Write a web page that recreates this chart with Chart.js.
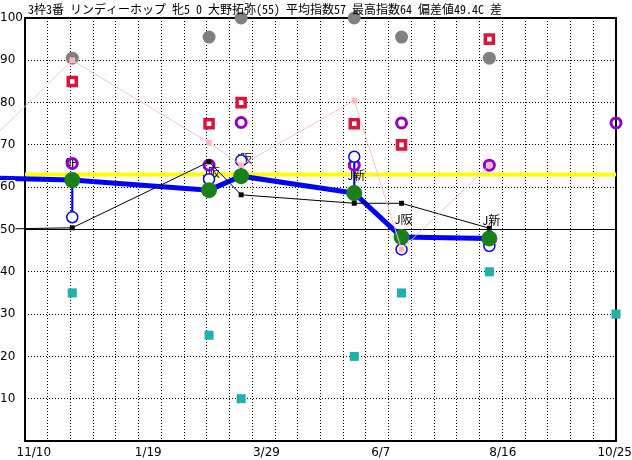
<!DOCTYPE html>
<html lang="ja">
<head>
<meta charset="utf-8">
<title>指数グラフ</title>
<script src="https://cdn.jsdelivr.net/npm/chart.js@4.4.1/dist/chart.umd.min.js"></script>
<style>
  body { margin: 0; background: #fff; }
</style>
</head>
<body>
<canvas id="myChart" width="632" height="460"></canvas>
<script>
const titleText = '3枠3番 リンディーホップ 牝5 0 大野拓弥(55) 平均指数57 最高指数64 偏差値49.4C 差';

// x range and labels
const xStart = '2023-11-15';
const xEnd = '2024-10-30';
const tickDates = ['2023-11-10', '2024-01-19', '2024-03-29', '2024-06-07', '2024-08-16', '2024-10-25'];
const tickLabels = ['11/10', '1/19', '3/29', '6/7', '8/16', '10/25'];

// races
const prevDate = '2023-10-15';
const raceDates = ['2023-12-13', '2024-03-03', '2024-03-22', '2024-05-28', '2024-06-25', '2024-08-16'];
const nextDate = '2024-10-30';
const courses = ['OP', 'J阪', 'J阪', 'J新', 'J阪', 'J新'];

// values
const speedPrev = 62.3;
const speed = [61.7, 59.3, 62.6, 58.6, 48.2, 47.9];
const speedAlt = [52.9, 61.9, 66.3, 67.2, 45.3, 46.1];
const blackPrev = 50;
const blackIdx = [50.4, 66, 58.2, 56.2, 56.2, 50.3];
const pinkPrev = 67;
const pinkIdx = [90, 70.5, 65.2, 80.5, 45.3, 65.2];
const grayIdx = [90.5, 95.5, 100, 100, 95.5, 90.5];
const redIdx = [85, 75, 80, 75, 70, 95];
const purpleIdx = [65.6, 65.2, 75.3, 65.2, 75.2, 65.2];
const purpleNext = 75.2;
const tealIdx = [35, 25, 10, 20, 35, 40];
const tealNext = 30;
const yellowLevel = 63;
const baseLevel = 50;

const dayOf = s => {
    const [y, m, d] = s.split('-').map(Number);
    return Date.UTC(y, m - 1, d) / 86400000;
};
const pts = (dates, vals) => dates.map((d, i) => ({x: dayOf(d), y: vals[i]}));
const xMin = dayOf(xStart);
const xMax = dayOf(xEnd);

const jpFont = '"Noto Sans Mono CJK JP", "Noto Sans CJK JP", sans-serif';
const tickFont = {family: 'DejaVu Sans', size: 12};

const framePlugin = {
    id: 'frame',
    // keep the last date label inside the canvas, like the original
    afterLayout(chart) {
        const s = chart.scales.x;
        const ctx = chart.ctx;
        ctx.save();
        ctx.font = tickFont.size + 'px "' + tickFont.family + '"';
        s.ticks.forEach(t => {
            if (!t.txt) return;
            const maxPx = chart.width - ctx.measureText(t.txt).width;
            if (s.getPixelForValue(t.value) > maxPx) t.value = s.getValueForPixel(maxPx);
        });
        ctx.restore();
    },
    beforeDatasetsDraw(chart) {
        const {ctx, chartArea: a} = chart;
        ctx.save();
        ctx.strokeStyle = '#000';
        ctx.lineWidth = 2;
        ctx.strokeRect(a.left, a.top, a.right - a.left, a.bottom - a.top);
        ctx.restore();
    }
};

const textPlugin = {
    id: 'texts',
    afterDatasetDraw(chart, args) {
        const ds = chart.data.datasets[args.index];
        if (!ds.courses) return;
        const ctx = chart.ctx;
        ctx.save();
        ctx.font = '12px ' + jpFont;
        ctx.fillStyle = '#000';
        ctx.textBaseline = 'middle';
        args.meta.data.forEach((p, i) => {
            if (i === 0) return;
            ctx.fillText(ds.courses[i - 1], p.x - 7, p.y - 18);
        });
        ctx.restore();
    },
    afterDraw(chart) {
        const ctx = chart.ctx;
        ctx.save();
        ctx.font = '12px ' + jpFont;
        ctx.fillStyle = '#000';
        ctx.textBaseline = 'middle';
        ctx.fillText(titleText, 28, 9);
        ctx.restore();
    }
};

const allDates = raceDates.concat([nextDate]);

new Chart('myChart', {
    type: 'line',
    data: {
        datasets: [
            {
                data: pts([prevDate].concat(raceDates), [pinkPrev].concat(pinkIdx)),
                borderColor: '#f5c4cf', borderWidth: 1,
                pointStyle: 'rect', pointRadius: 4, pointBackgroundColor: '#ffb6c1', pointBorderWidth: 0
            },
            {
                data: pts([prevDate].concat(raceDates), [blackPrev].concat(blackIdx)),
                borderColor: '#000', borderWidth: 1,
                pointStyle: 'rect', pointRadius: 3.5, pointBackgroundColor: '#000', pointBorderWidth: 0
            },
            {
                data: pts(raceDates, speed), showLine: false,
                pointRadius: 8, pointBackgroundColor: '#1a801a', pointBorderWidth: 0
            },
            {
                data: pts(raceDates, speedAlt), showLine: false,
                pointRadius: 5.5, pointBackgroundColor: '#fff', pointBorderColor: 'blue', pointBorderWidth: 1.5
            },
            {
                data: pts(allDates, purpleIdx.concat([purpleNext])), showLine: false,
                pointRadius: 5, pointBackgroundColor: 'transparent', pointBorderColor: '#9400d3', pointBorderWidth: 3
            },
            {
                label: '指数',
                courses: courses,
                data: pts([prevDate].concat(raceDates), [speedPrev].concat(speed)),
                borderColor: 'blue', borderWidth: 5, pointRadius: 0
            },
            {
                type: 'bar',
                data: raceDates.map((d, i) => ({x: dayOf(d), y: [speedAlt[i], speed[i]]})),
                backgroundColor: 'blue', barThickness: 1.5, borderWidth: 0
            },
            {
                data: pts(raceDates, grayIdx), showLine: false,
                pointRadius: 6.5, pointBackgroundColor: '#808080', pointBorderWidth: 0
            },
            {
                data: pts(raceDates, redIdx), showLine: false,
                pointStyle: 'rect', pointRadius: 5.7, pointBackgroundColor: '#fff',
                pointBorderColor: 'crimson', pointBorderWidth: 3.5
            },
            {
                data: pts(allDates, tealIdx.concat([tealNext])), showLine: false,
                pointStyle: 'rect', pointRadius: 6.4, pointBackgroundColor: 'lightseagreen', pointBorderWidth: 0
            },
            {
                data: [{x: xMin, y: yellowLevel}, {x: xMax, y: yellowLevel}],
                borderColor: 'yellow', borderWidth: 4, pointRadius: 0
            },
            {
                data: [{x: xMin, y: baseLevel}, {x: xMax, y: baseLevel}],
                borderColor: '#000', borderWidth: 1, pointRadius: 0
            }
        ].map(ds => Object.assign({clip: false, tension: 0}, ds))
    },
    options: {
        responsive: false,
        animation: false,
        events: [],
        layout: {padding: {top: 18, right: 16, left: 0, bottom: 0}},
        plugins: {legend: {display: false}, tooltip: {enabled: false}},
        scales: {
            x: {
                type: 'linear',
                offset: false,
                min: xMin,
                max: xMax,
                afterBuildTicks: s => {
                    const t = [];
                    for (let k = 0; k <= 26; k++) t.push({value: xMin + k * (xMax - xMin) / 26, grid: true});
                    tickDates.forEach((d, i) => t.push({value: dayOf(d), txt: tickLabels[i]}));
                    s.ticks = t;
                },
                afterFit: s => {
                    s.height = 19;
                    s.paddingLeft = 0;
                    s.paddingRight = 0;
                },
                grid: {
                    offset: false,
                    drawTicks: false,
                    color: c => (c.tick && c.tick.grid) ? '#000' : 'rgba(0,0,0,0)',
                    lineWidth: 1
                },
                border: {display: false, dash: [1, 2]},
                ticks: {
                    autoSkip: false,
                    maxRotation: 0,
                    align: 'start',
                    padding: 5,
                    color: '#000',
                    font: tickFont,
                    callback: (v, i, ticks) => ticks[i].txt || ''
                }
            },
            y: {
                min: 0,
                max: 100,
                afterFit: s => { s.width = 25; },
                grid: {drawTicks: false, color: '#000', lineWidth: 1},
                border: {display: false, dash: [1, 2]},
                ticks: {
                    stepSize: 10,
                    crossAlign: 'far',
                    color: '#000',
                    font: tickFont,
                    showLabelBackdrop: true,
                    backdropColor: '#fff',
                    backdropPadding: 0,
                    z: 1,
                    callback: v => v === 0 ? '' : v
                }
            }
        }
    },
    plugins: [framePlugin, textPlugin]
});
</script>
</body>
</html>
